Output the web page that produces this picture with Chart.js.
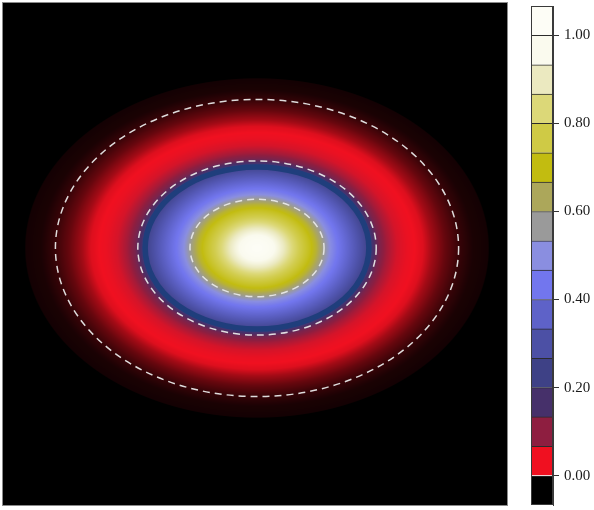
<!DOCTYPE html>
<html><head><meta charset="utf-8">
<script src="https://cdn.jsdelivr.net/npm/chart.js@4.4.1/dist/chart.umd.min.js"></script>
<style>
html,body{margin:0;padding:0;background:#fff;width:594px;height:510px;overflow:hidden}
#main{position:absolute;left:0;top:0;width:510px;height:508px}
#cbar{position:absolute;left:520px;top:0;width:74px;height:510px}
</style></head><body>
<div id="main"><canvas id="c1"></canvas></div>
<div id="cbar"><canvas id="c2"></canvas></div>
<script>
// ---------- data ----------
const xLimits = [-1, 1];
const yLimits = [-1, 1];
const fieldCenter = [0.008, 0.024];
const fieldAspect = 0.735;
// elliptical radius (x data units) -> field value
const profileRadius = [0.000, 0.048, 0.087, 0.127, 0.167, 0.206, 0.234, 0.254, 0.270, 0.290, 0.317, 0.365, 0.409, 0.437, 0.460, 0.484, 0.516, 0.556, 0.595, 0.627, 0.659, 0.694, 0.746, 0.802, 0.857, 0.917, 0.929, 1.032, 1.587];
const profileValue  = [1.040, 1.000, 0.940, 0.860, 0.780, 0.720, 0.670, 0.610, 0.560, 0.500, 0.440, 0.370, 0.300, 0.250, 0.170, 0.120, 0.085, 0.052, 0.038, 0.033, 0.028, 0.012, -0.005, -0.018, -0.026, -0.028, -0.040, -0.060, -0.066];
// dashed contour ellipses (semi-axes, data units)
const contourSemiX = [0.266, 0.473, 0.800];
const contourSemiY = [0.194, 0.347, 0.592];
// dark solid ridge contour
const ridgeSemiX = [0.444];
const ridgeSemiY = [0.323];
// colorbar level boundaries and ticks
const levelBounds = [-0.0667, 0.0, 0.0667, 0.1333, 0.2, 0.2667, 0.3333, 0.4, 0.4667, 0.5333, 0.6, 0.6667, 0.7333, 0.8, 0.8667, 0.9333, 1.0, 1.0667];
const colorbarTicks = [0, 0.2, 0.4, 0.6, 0.8, 1.0];

// ---------- style ----------
const palette = ['#000000','#f01020','#8e1e40','#46306a','#3e4186','#4c50a5','#5e62c8','#7276ee','#8a8ee0','#9a9a9a','#aca75a','#c2bc10','#cfca45','#dcd878','#ebe9c0','#fafaee','#fdfdf6'];
const paletteRGB = palette.map(h => [parseInt(h.slice(1,3),16), parseInt(h.slice(3,5),16), parseInt(h.slice(5,7),16)]);
const levelMids = palette.map((_, i) => (levelBounds[i] + levelBounds[i+1]) / 2);

function profileAt(r) {
  if (r <= profileRadius[0]) return profileValue[0];
  for (let k = 1; k < profileRadius.length; k++) {
    if (r <= profileRadius[k]) {
      const t = (r - profileRadius[k-1]) / (profileRadius[k] - profileRadius[k-1]);
      return profileValue[k-1] + t * (profileValue[k] - profileValue[k-1]);
    }
  }
  return profileValue[profileValue.length - 1];
}
function colorAt(v) {
  const n = levelMids.length;
  if (v <= levelMids[0]) return paletteRGB[0];
  if (v >= levelMids[n-1]) return paletteRGB[n-1];
  for (let k = 1; k < n; k++) {
    if (v <= levelMids[k]) {
      const t = (v - levelMids[k-1]) / (levelMids[k] - levelMids[k-1]);
      const a = paletteRGB[k-1], b = paletteRGB[k];
      return [a[0] + t*(b[0]-a[0]), a[1] + t*(b[1]-a[1]), a[2] + t*(b[2]-a[2])];
    }
  }
  return paletteRGB[n-1];
}

const fieldPlugin = {
  id: 'field',
  beforeDatasetsDraw(chart) {
    const ctx = chart.ctx, xs = chart.scales.x, ys = chart.scales.y;
    const ca = chart.chartArea;
    const w = Math.round(ca.right - ca.left), h = Math.round(ca.bottom - ca.top);
    const img = ctx.createImageData(w, h);
    const d = img.data;
    const cx = fieldCenter[0], cy = fieldCenter[1];
    for (let j = 0; j < h; j++) {
      const y = ys.getValueForPixel(ca.top + j + 0.5);
      const dy = (y - cy) / fieldAspect;
      for (let i = 0; i < w; i++) {
        const x = xs.getValueForPixel(ca.left + i + 0.5);
        const dx = x - cx;
        const c = colorAt(profileAt(Math.sqrt(dx*dx + dy*dy)));
        const p = (j*w + i) * 4;
        d[p] = c[0]; d[p+1] = c[1]; d[p+2] = c[2]; d[p+3] = 255;
      }
    }
    ctx.putImageData(img, Math.round(ca.left), Math.round(ca.top));
  },
  afterDatasetsDraw(chart) {
    const ctx = chart.ctx, xs = chart.scales.x, ys = chart.scales.y;
    const ca = chart.chartArea;
    const cx = fieldCenter[0], cy = fieldCenter[1];
    const cxp = xs.getPixelForValue(cx), cyp = ys.getPixelForValue(cy);
    const ell = (sx, sy) => {
      ctx.beginPath();
      ctx.ellipse(cxp, cyp, Math.abs(xs.getPixelForValue(cx + sx) - cxp), Math.abs(ys.getPixelForValue(cy + sy) - cyp), 0, 0, Math.PI*2);
      ctx.stroke();
    };
    ctx.save();
    ctx.beginPath(); ctx.rect(ca.left, ca.top, ca.right-ca.left, ca.bottom-ca.top); ctx.clip();
    ctx.strokeStyle = '#1f3e7c'; ctx.lineWidth = 5.5; ctx.setLineDash([]);
    ridgeSemiX.forEach((sx, k) => ell(sx, ridgeSemiY[k]));
    ctx.strokeStyle = 'rgba(232,232,232,0.95)'; ctx.lineWidth = 1.5; ctx.setLineDash([7, 5]);
    contourSemiX.forEach((sx, k) => ell(sx, contourSemiY[k]));
    ctx.restore();
    ctx.save();
    ctx.strokeStyle = '#8a8a8a'; ctx.lineWidth = 1;
    ctx.strokeRect(ca.left - 0.5, ca.top - 0.5, ca.right - ca.left + 1, ca.bottom - ca.top + 1);
    ctx.restore();
  }
};

new Chart(document.getElementById('c1'), {
  type: 'scatter',
  data: { datasets: [] },
  options: {
    responsive: true, maintainAspectRatio: false, animation: false,
    layout: { padding: { left: 3, top: 3, right: 3, bottom: 3 } },
    plugins: { legend: { display: false }, tooltip: { enabled: false } },
    scales: {
      x: { type: 'linear', min: xLimits[0], max: xLimits[1], display: false },
      y: { type: 'linear', min: yLimits[0], max: yLimits[1], display: false }
    }
  },
  plugins: [fieldPlugin]
});

// ---------- colorbar ----------
const cbDatasets = palette.map((col, i) => ({
  data: [[levelBounds[i], levelBounds[i+1]]],
  backgroundColor: col,
  borderColor: '#2b2b2b',
  borderWidth: { top: 1, bottom: 0, left: 0, right: 0 },
  borderSkipped: false,
  barPercentage: 1, categoryPercentage: 1
}));
const framePlugin = {
  id: 'frame',
  afterDraw(chart) {
    const ctx = chart.ctx, ca = chart.chartArea;
    ctx.save(); ctx.strokeStyle = '#3a3a3a'; ctx.lineWidth = 1;
    ctx.strokeRect(ca.left + 0.5, ca.top + 0.5, ca.right - ca.left - 1, ca.bottom - ca.top - 1);
    ctx.restore();
  }
};
new Chart(document.getElementById('c2'), {
  type: 'bar',
  data: { labels: [''], datasets: cbDatasets },
  options: {
    responsive: true, maintainAspectRatio: false, animation: false,
    layout: { padding: { left: 11, top: 6, bottom: 5, right: 0 } },
    plugins: { legend: { display: false }, tooltip: { enabled: false } },
    scales: {
      x: { stacked: true, display: false },
      y: {
        stacked: false, position: 'right',
        min: levelBounds[0], max: levelBounds[levelBounds.length - 1],
        afterBuildTicks: s => { s.ticks = colorbarTicks.map(v => ({ value: v })); },
        afterFit: s => { s.width = 41; s.paddingTop = 0; s.paddingBottom = 0; },
        grid: { drawOnChartArea: false, tickLength: 6, color: '#333', lineWidth: 1 },
        border: { display: true, color: '#3a3a3a' },
        ticks: {
          padding: 5, color: '#1a1a1a',
          font: { family: '"Liberation Serif", "Times New Roman", serif', size: 15 },
          callback: v => Number(v).toFixed(2)
        }
      }
    }
  },
  plugins: [framePlugin]
});
</script>
</body></html>
